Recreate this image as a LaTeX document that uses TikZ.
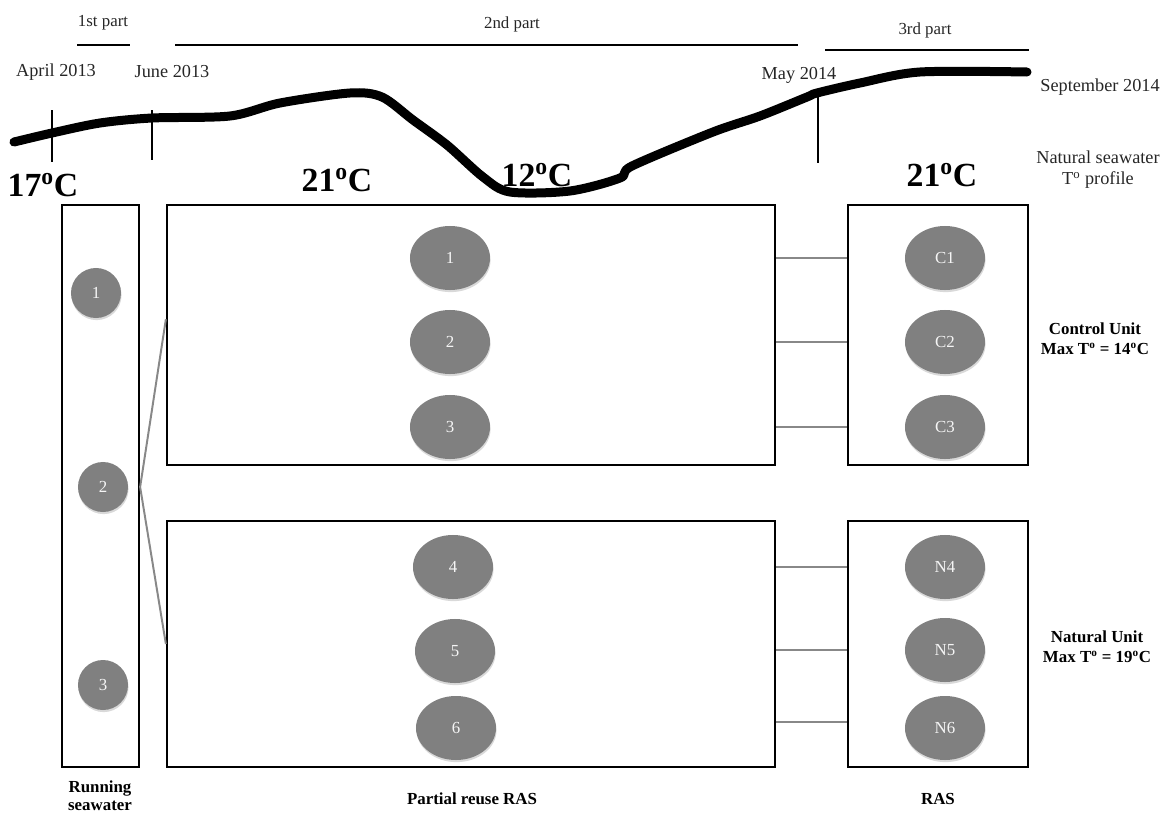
\documentclass[tikz,border=0pt]{standalone}
\usepackage{fontspec}
\setmainfont{Liberation Serif}
\usetikzlibrary{shapes.geometric, positioning, calc, fit, shadows}
\definecolor{tankgray}{RGB}{128,128,128}
\definecolor{pipegray}{RGB}{136,136,136}
\newcommand{\degr}{\textsuperscript{o}}

\tikzset{
  unitbox/.style={draw=black, line width=1.6pt, inner sep=0pt},
  tank/.style={ellipse, fill=tankgray, text=white!92!gray, font=\fontsize{12}{14}\selectfont,
               minimum width=2cm, minimum height=1.6cm, inner sep=0pt,
               drop shadow={shadow xshift=0.4pt, shadow yshift=-1.5pt, opacity=0.3}},
  smalltank/.style={tank, circle, minimum size=1.25cm},
  pipe/.style={pipegray, line width=1.4pt},
  tick/.style={black, line width=1.3pt},
  partbar/.style={black, line width=1.3pt},
  datelbl/.style={font=\fontsize{13}{15}\selectfont, text=black!85},
  partlbl/.style={font=\fontsize{12}{14}\selectfont, text=black!85},
  templbl/.style={font=\fontsize{24}{26}\selectfont\bfseries},
  unitlbl/.style={font=\fontsize{12}{14.5}\selectfont\bfseries, align=center},
}

\begin{document}
\begin{tikzpicture}[x=0.025cm, y=-0.025cm]
    \useasboundingbox (0,0) rectangle (1165,816);
    % --- Periodos ---
    \draw[partbar] (77,45) -- (130,45);
    \node[partlbl] (p1) at (103,23) {1st part};
    \draw[partbar] (175,45) -- (798,45);
    \node[partlbl] (p2) at (512,24) {2nd part};
    \draw[partbar] (825,50) -- (1029,50);
    \node[partlbl] (p3) at (925,30) {3rd part};
    % --- Datas ---
    \node[datelbl] (d1) at (56,72) {April 2013};
    \node[datelbl] (d2) at (172,72) {June 2013};
    \node[datelbl] (d3) at (799,75) {May 2014};
    \node[datelbl] (d4) at (1100,87) {September 2014};
    % --- Perfil de temperatura ---
    \draw[line width=6.4pt, line cap=round, line join=round] plot[smooth, tension=0.5] coordinates {
      (14,142) (52,133) (100,123) (152,118) (230,116) (280,103) (350,93) (382,97)
      (413,120) (447,145) (483,177) (510,192) (570,191) (620,178) (632,166)
      (713,132) (760,116) (807,97) (817,93) (860,83) (920,72) (1027,72)};
    \draw[tick] (52,110) -- (52,162);
    \draw[tick] (152,110) -- (152,160);
    \draw[tick] (818,95) -- (818,163);
    % --- Temperaturas ---
    \node[templbl] (t1) at (43,185) {17\degr C};
    \node[templbl] (t2) at (337,180) {21\degr C};
    \node[templbl] (t3) at (537,175) {12\degr C};
    \node[templbl] (t4) at (942,175) {21\degr C};
    \node[datelbl, align=center] (prof) at (1098,170) {Natural seawater\\T\degr{} profile};
    % --- Caixas ---
    \node[unitbox, fit={(62,205) (139,767)}] (rsw) {};
    \node[unitbox, fit={(167,205) (775,465)}] (prt) {};
    \node[unitbox, fit={(167,521) (775,767)}] (prb) {};
    \node[unitbox, fit={(848,205) (1028,465)}] (ctl) {};
    \node[unitbox, fit={(848,521) (1028,767)}] (nat) {};
    % --- Tanques ---
    \node[smalltank] (r1) at (96,293) {1};
    \node[smalltank] (r2) at (103,487) {2};
    \node[smalltank] (r3) at (103,685) {3};
    \foreach \n/\x/\y in {1/450/258, 2/450/342, 3/450/427, 4/453/567, 5/455/651, 6/456/728}
      \node[tank] (t\n) at (\x,\y) {\n};
    \foreach \n/\y in {1/258, 2/342, 3/427}
      \node[tank] (c\n) at (945,\y) {C\n};
    \foreach \n/\y in {4/567, 5/650, 6/728}
      \node[tank] (n\n) at (945,\y) {N\n};
    % --- Conexoes ---
    \draw[pipe] (rsw.east |- r2) -- ($(prt.north west)!0.44!(prt.south west)$);
    \draw[pipe] (rsw.east |- r2) -- (prb.west);
    \foreach \n in {1,2,3}
      \draw[pipe] (prt.east |- c\n) -- (ctl.west |- c\n);
    \foreach \n in {4,5}
      \draw[pipe] (prb.east |- n\n) -- (nat.west |- n\n);
    \draw[pipe] ($(prb.east |- n6)+(0,-6)$) -- ($(nat.west |- n6)+(0,-6)$);
    % --- Legendas ---
    \node[unitlbl] (cu) at (1095,339) {Control Unit\\Max T\degr{} = 14\degr C};
    \node[unitlbl] (nu) at (1097,647) {Natural Unit\\Max T\degr{} = 19\degr C};
    \node[unitlbl, font=\fontsize{12}{13}\selectfont\bfseries, inner sep=0pt, anchor=north]
      (rlbl) at (100,780) {Running\\seawater};
    \node[unitlbl] (plbl) at (472,799) {Partial reuse RAS};
    \node[unitlbl] (rasl) at (938,799) {RAS};
\end{tikzpicture}
\end{document}
